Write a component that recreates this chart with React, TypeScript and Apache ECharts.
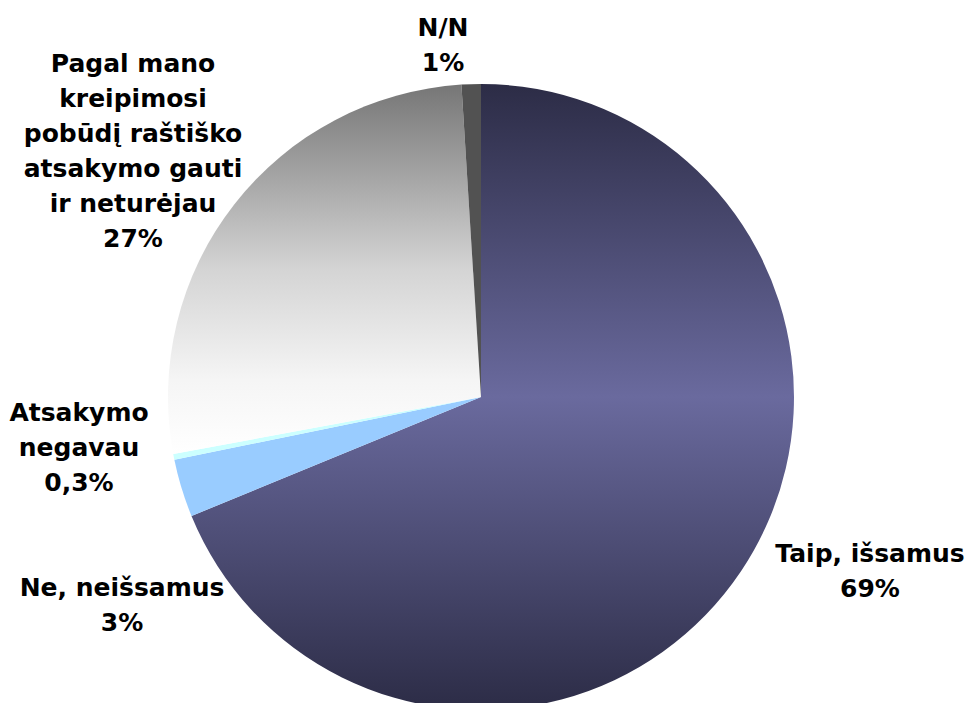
import React, { useEffect, useRef } from "react";
import * as echarts from "echarts";

const categories = [
  "Taip, išsamus",
  "Ne, neišsamus",
  "Atsakymo\nnegavau",
  "Pagal mano\nkreipimosi\npobūdį raštiško\natsakymo gauti\nir neturėjau",
  "N/N",
];
const values = [69, 3, 0.3, 27, 1];

// label anchor points (px) for each slice, in the same order
const labelAnchors: [number, number][] = [
  [870, 571],
  [122, 605],
  [79, 447],
  [133, 151],
  [443, 45],
];

const sliceColors: any[] = [
  {
    type: "linear",
    x: 0,
    y: 0,
    x2: 0,
    y2: 1,
    colorStops: [
      { offset: 0, color: "#2c2c46" },
      { offset: 0.5, color: "#6a6a9e" },
      { offset: 1, color: "#2c2c46" },
    ],
  },
  "#99ccff",
  "#ccffff",
  {
    type: "linear",
    x: 0,
    y: 0,
    x2: 0,
    y2: 1,
    colorStops: [
      { offset: 0, color: "#767676" },
      { offset: 0.5, color: "#d4d4d4" },
      { offset: 0.8, color: "#f5f5f5" },
      { offset: 1, color: "#ffffff" },
    ],
  },
  "#525252",
];

export default function App() {
  const ref = useRef<HTMLDivElement>(null);
  useEffect(() => {
    if (!ref.current) return;
    const chart = echarts.init(ref.current, undefined, { renderer: "svg" });
    chart.setOption({
      animation: false,
      backgroundColor: "#ffffff",
      series: [
        {
          type: "pie",
          center: [481, 397],
          radius: 313,
          startAngle: 90,
          clockwise: true,
          avoidLabelOverlap: false,
          emphasis: { disabled: true },
          data: categories.map((name, i) => ({
            name,
            value: values[i],
            itemStyle: { color: sliceColors[i], borderWidth: 0 },
          })),
          label: {
            show: true,
            position: "outside",
            formatter: (p: any) =>
              `${p.name}\n${String(p.value).replace(".", ",")}%`,
            fontFamily: "'DejaVu Sans', Verdana, sans-serif",
            fontWeight: "bold",
            fontSize: 25,
            lineHeight: 35,
            color: "#000000",
            align: "center",
          },
          labelLine: { show: false },
          labelLayout: (params: any) => {
            const a = labelAnchors[params.dataIndex];
            return {
              x: a[0],
              y: a[1],
              align: "center",
              verticalAlign: "middle",
              hideOverlap: false,
            };
          },
        },
      ],
    });
    return () => chart.dispose();
  }, []);
  return (
    <div
      ref={ref}
      style={{
        position: "fixed",
        left: 0,
        top: 0,
        width: 968,
        height: 703,
        background: "#ffffff",
      }}
    />
  );
}
